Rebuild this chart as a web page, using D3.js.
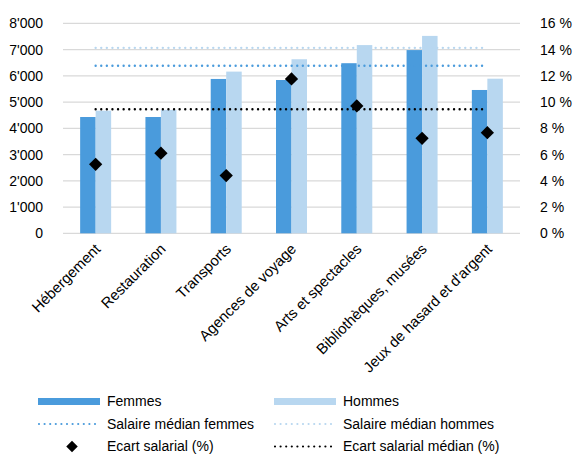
<!DOCTYPE html>
<html>
<head>
<meta charset="utf-8">
<script src="https://cdn.jsdelivr.net/npm/d3@7"></script>
<style>
  body { margin: 0; background: #fff; }
  text { font-family: "Liberation Sans", Arial, sans-serif; fill: #000; }
</style>
</head>
<body>
<svg id="chart" width="574" height="456"></svg>
<script>
const categories = ["Hébergement", "Restauration", "Transports", "Agences de voyage",
  "Arts et spectacles", "Bibliothèques, musées", "Jeux de hasard et d'argent"];
const femmes = [4430, 4430, 5880, 5840, 6480, 6980, 5460];
const hommes = [4670, 4700, 6160, 6630, 7170, 7520, 5890];
const ecart = [5.26, 6.1, 4.4, 11.76, 9.7, 7.24, 7.67];
const medianFemmes = 6385;
const medianHommes = 7065;
const ecartMedian = 9.45;
const leftTicks = [0, 1000, 2000, 3000, 4000, 5000, 6000, 7000, 8000];
const rightTicks = [0, 2, 4, 6, 8, 10, 12, 14, 16];

const colFemmes = "#4a9bdc";
const colHommes = "#b8d7f0";

const svg = d3.select("#chart");
const margin = { top: 23.3, left: 63, right: 54, bottom: 222.7 };
const width = 574, height = 456;
const x0 = margin.left, x1 = width - margin.right;
const yTop = margin.top, yBot = height - margin.bottom;

const x = d3.scaleBand().domain(categories).range([x0, x1]).padding(0);
const xs = d3.scaleBand().domain(["Femmes", "Hommes"])
  .range([x.bandwidth() / 2 - 15.5, x.bandwidth() / 2 + 15.5]);
const y = d3.scaleLinear().domain([0, 8000]).range([yBot, yTop]);
const y2 = d3.scaleLinear().domain([0, 16]).range([yBot, yTop]);

// grid
svg.append("g")
  .selectAll("line")
  .data(leftTicks)
  .join("line")
  .attr("x1", x0).attr("x2", x1)
  .attr("y1", d => y(d)).attr("y2", d => y(d))
  .attr("stroke", "#d9d9d9").attr("stroke-width", 1.3);

// left axis
const fmt = d => d === 0 ? "0" : d3.format(",")(d).replace(/,/g, "'");
svg.append("g")
  .attr("transform", `translate(${x0 - 17},0)`)
  .call(d3.axisLeft(y).tickValues(leftTicks).tickFormat(fmt).tickSize(0))
  .call(g => g.select(".domain").remove())
  .call(g => g.selectAll("text").attr("font-size", 14).attr("font-family", "Liberation Sans, Arial, sans-serif"));

// right axis
svg.append("g")
  .attr("transform", `translate(${x1 + 17},0)`)
  .call(d3.axisRight(y2).tickValues(rightTicks).tickFormat(d => d + " %").tickSize(0))
  .call(g => g.select(".domain").remove())
  .call(g => g.selectAll("text").attr("font-size", 14).attr("font-family", "Liberation Sans, Arial, sans-serif"));

// bars
const rows = categories.map((c, i) => ({ cat: c, Femmes: femmes[i], Hommes: hommes[i] }));
svg.append("g")
  .selectAll("g")
  .data(rows)
  .join("g")
  .attr("transform", d => `translate(${x(d.cat)},0)`)
  .selectAll("rect")
  .data(d => ["Femmes", "Hommes"].map(k => ({ key: k, value: d[k] })))
  .join("rect")
  .attr("x", d => xs(d.key))
  .attr("width", xs.bandwidth())
  .attr("y", d => y(d.value))
  .attr("height", d => y(0) - y(d.value))
  .attr("fill", d => d.key === "Femmes" ? colFemmes : colHommes);

// median lines
const xa = x(categories[0]) + x.bandwidth() / 2;
const xb = x(categories[categories.length - 1]) + x.bandwidth() / 2;
const medians = [
  { yv: y(medianHommes), color: colHommes },
  { yv: y(medianFemmes), color: colFemmes },
  { yv: y2(ecartMedian), color: "#000" }
];
svg.append("g")
  .selectAll("line")
  .data(medians)
  .join("line")
  .attr("x1", xa).attr("x2", xb)
  .attr("y1", d => d.yv).attr("y2", d => d.yv)
  .attr("stroke", d => d.color)
  .attr("stroke-width", 2.4)
  .attr("stroke-linecap", "round")
  .attr("stroke-dasharray", "0,5.6");

// diamonds
const diamond = d3.symbol().type(d3.symbolSquare).size(88);
svg.append("g")
  .selectAll("path")
  .data(categories.map((c, i) => ({ cat: c, v: ecart[i] })))
  .join("path")
  .attr("d", diamond)
  .attr("transform", d => `translate(${x(d.cat) + x.bandwidth() / 2},${y2(d.v)}) rotate(45)`)
  .attr("fill", "#000");

// x labels
svg.append("g")
  .selectAll("text")
  .data(categories)
  .join("text")
  .attr("transform", d => `translate(${x(d) + x.bandwidth() / 2 + 2},${yBot + 13}) rotate(-45)`)
  .attr("text-anchor", "end")
  .attr("dy", "0.35em")
  .attr("font-size", 14.8)
  .text(d => d);

// legend
const leg = svg.append("g");
const rowY = [401.5, 424, 446.5];
const colX = [38, 274];
const textX = [107, 343];
const items = [
  { label: "Femmes", type: "rect", color: colFemmes, r: 0, c: 0 },
  { label: "Hommes", type: "rect", color: colHommes, r: 0, c: 1 },
  { label: "Salaire médian femmes", type: "dot", color: colFemmes, r: 1, c: 0 },
  { label: "Salaire médian hommes", type: "dot", color: colHommes, r: 1, c: 1 },
  { label: "Ecart salarial (%)", type: "diamond", color: "#000", r: 2, c: 0 },
  { label: "Ecart salarial médian (%)", type: "dot", color: "#000", r: 2, c: 1 }
];
items.forEach(it => {
  const yy = rowY[it.r], xx = colX[it.c];
  if (it.type === "rect") {
    leg.append("rect").attr("x", xx).attr("y", yy - 3.5).attr("width", 62).attr("height", 7).attr("fill", it.color);
  } else if (it.type === "dot") {
    leg.append("line").attr("x1", xx + 1).attr("x2", xx + 60).attr("y1", yy).attr("y2", yy)
      .attr("stroke", it.color).attr("stroke-width", 2.2).attr("stroke-linecap", "round")
      .attr("stroke-dasharray", "0,5.6");
  } else {
    leg.append("path").attr("d", d3.symbol().type(d3.symbolSquare).size(66))
      .attr("transform", `translate(${xx + 34},${yy}) rotate(45)`).attr("fill", it.color);
  }
  leg.append("text").attr("x", textX[it.c]).attr("y", yy).attr("dy", "0.35em")
    .attr("font-size", 14).text(it.label);
});
</script>
</body>
</html>
